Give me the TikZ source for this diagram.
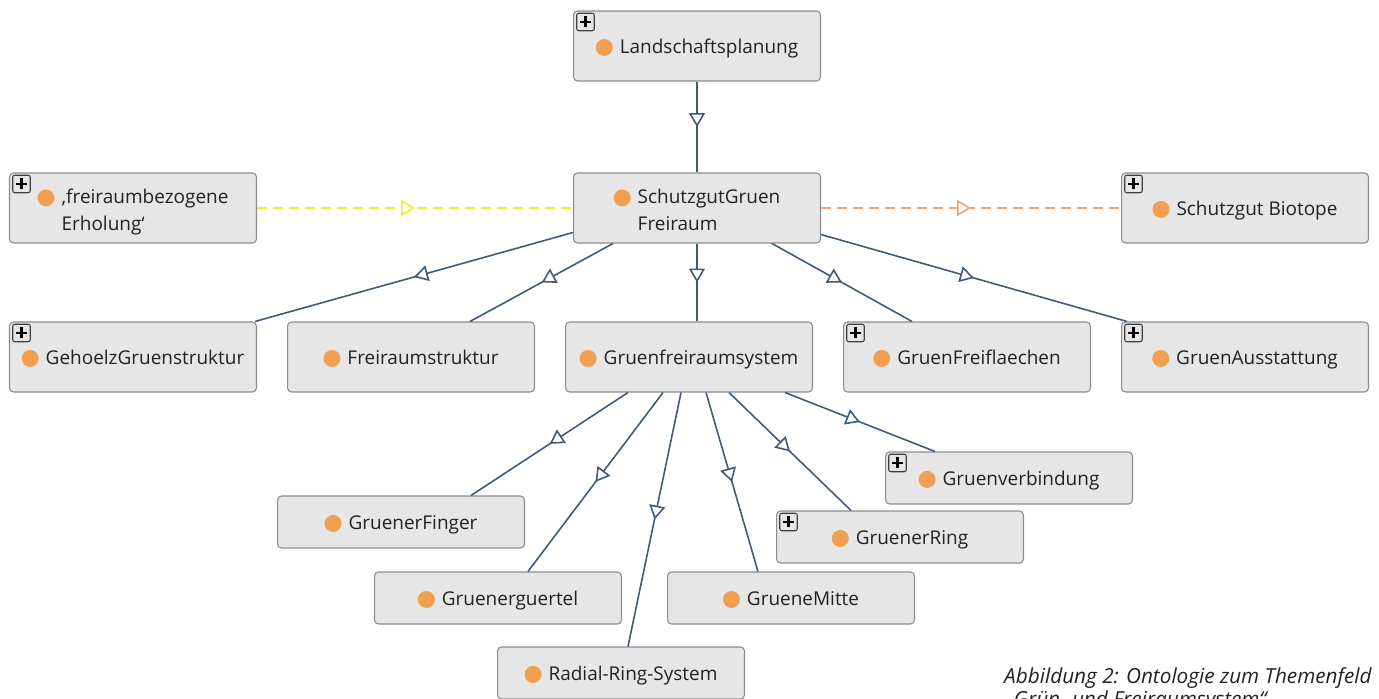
\documentclass[tikz,border=0pt]{standalone}
\usepackage{fontspec}
\setmainfont{Open Sans}
\usetikzlibrary{calc,arrows.meta,decorations.markings}

\definecolor{boxfill}{HTML}{E6E6E6}
\definecolor{boxline}{HTML}{8C8C8C}
\definecolor{kante}{HTML}{3E5A78}
\definecolor{punkt}{HTML}{F0A050}
\definecolor{gelb}{HTML}{F8E71C}
\definecolor{orange}{HTML}{F4A261}
\definecolor{schrift}{HTML}{222222}

\newcommand{\klpunkt}{\tikz[baseline=-0.6ex]\fill[punkt] (0,0) circle (0.17cm);\hspace{0.14cm}}

\tikzset{
  kasten/.style={draw=boxline, fill=boxfill, line width=0.6pt, rounded corners=0.08cm,
    minimum width=4.94cm, minimum height=1.4cm, inner sep=0pt, text=schrift,
    font=\fontsize{10.8}{15.3}\selectfont, align=left},
  klasse/.style={kasten, text height=8.6pt, text depth=0pt},
  zweizeilig/.style={kasten, text height=26pt, text depth=0pt},
  klein/.style={klasse, minimum height=1.04cm},
  plusbox/.style={draw=black!75, fill=boxfill, line width=0.6pt, rounded corners=0.04cm,
    minimum size=0.35cm, inner sep=0pt,
    path picture={
      \draw[line width=1.3pt, black] ([xshift=-0.11cm]path picture bounding box.center) -- ([xshift=0.11cm]path picture bounding box.center);
      \draw[line width=1.3pt, black] ([yshift=-0.11cm]path picture bounding box.center) -- ([yshift=0.11cm]path picture bounding box.center);}},
  isa/.style={draw=kante, line width=0.9pt, postaction={decorate},
    decoration={markings, mark=at position 0.5 with
      {\arrow{Triangle[open, fill=white, length=0.28cm, width=0.32cm]}}}},
  bezug/.style={draw=#1, line width=0.9pt, dash pattern=on 0.2cm off 0.12cm, postaction={decorate},
    decoration={markings, mark=at position 0.5 with
      {\arrow{Triangle[open, fill=white, length=0.28cm, width=0.32cm]}}}},
  caption/.style={font=\itshape\fontsize{11.8}{14}\selectfont, text=schrift, inner sep=0pt}
}

\begin{document}
\begin{tikzpicture}[x=0.02cm, y=-0.02cm]
  \useasboundingbox (0,0) rectangle (1379,699);

  % Klassen
  \node[klasse] (lp)  at (697,46)  {\klpunkt Landschaftsplanung};
  \node[zweizeilig] (er)  at (133,208) {\klpunkt ‚freiraumbezogene\\\hphantom{\klpunkt}Erholung‘};
  \node[zweizeilig] (sg)  at (697,208) {\klpunkt SchutzgutGruen\\\hphantom{\klpunkt}Freiraum};
  \node[klasse] (bio) at (1245,208) {\klpunkt Schutzgut Biotope};

  \node[klasse] (geh) at (133,357)  {\klpunkt GehoelzGruenstruktur};
  \node[klasse] (frs) at (411,357)  {\klpunkt Freiraumstruktur};
  \node[klasse] (gfs) at (689,357)  {\klpunkt Gruenfreiraumsystem};
  \node[klasse] (gff) at (967,357)  {\klpunkt GruenFreiflaechen};
  \node[klasse] (gau) at (1245,357) {\klpunkt GruenAusstattung};

  \node[klein] (gv) at (1009,478) {\klpunkt Gruenverbindung};
  \node[klein] (gf) at (401,522)  {\klpunkt GruenerFinger};
  \node[klein] (gr) at (900,537)  {\klpunkt GruenerRing};
  \node[klein] (gg) at (498,598)  {\klpunkt Gruenerguertel};
  \node[klein] (gm) at (791,598)  {\klpunkt GrueneMitte};
  \node[klein] (rr) at (621,673)  {\klpunkt Radial-Ring-System};

  \foreach \n in {lp,er,bio,geh,gff,gau,gv,gr}
    \node[plusbox] (\n-plus) at ($(\n.north west)+(12.5,11.5)$) {};

  % Unterklassen
  \draw[isa] (lp.south) -- (sg.north);
  \draw[isa] ($(sg.south west)+(0,-11)$) -- ($(geh.north east)+(-2,0)$);
  \draw[isa] ($(sg.south west)+(40,0)$) -- ($(frs.north)+(59,0)$);
  \draw[isa] (sg.south) -- (sg.south |- gfs.north);
  \draw[isa] ($(sg.south)+(75,0)$) -- ($(gff.north)+(-55,0)$);
  \draw[isa] ($(sg.south east)+(0,-9)$) -- ($(gau.north west)+(6,0)$);

  \draw[isa] ($(gfs.south)+(-61,0)$) -- ($(gf.north)+(70,0)$);
  \draw[isa] ($(gfs.south)+(-26,0)$) -- ($(gg.north)+(30,0)$);
  \draw[isa] ($(gfs.south)+(-8,0)$)  -- ($(rr.north)+(7,0)$);
  \draw[isa] ($(gfs.south)+(17,0)$)  -- ($(gm.north)+(-33,0)$);
  \draw[isa] ($(gfs.south)+(40,0)$)  -- ($(gr.north)+(-49,0)$);
  \draw[isa] ($(gfs.south)+(96,0)$)  -- ($(gv.north)+(-74,0)$);

  % Bezuege
  \draw[bezug=gelb] (er.east) -- (sg.west);
  \draw[bezug=orange] (sg.east) -- (bio.west);

  \node[caption, anchor=base east] (cap1) at (1372,683) {Abbildung 2: Ontologie zum Themenfeld};
  \node[caption, anchor=base west] (cap2) at (1005,706) {„Grün- und Freiraumsystem“};
\end{tikzpicture}
\end{document}
